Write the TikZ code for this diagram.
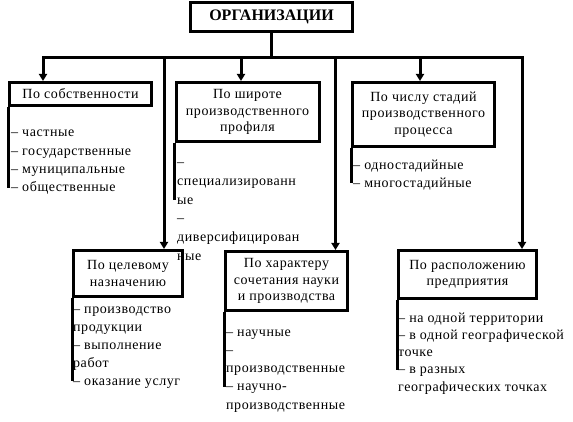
\documentclass[tikz,border=0pt]{standalone}
\usepackage{fontspec}
\setmainfont{Liberation Serif}
\newfontfamily\spacedfont{Liberation Serif}[LetterSpace=4]
\usetikzlibrary{arrows.meta}
\begin{document}
\begin{tikzpicture}[x=1pt,y=-1pt,
  box/.style={draw, line width=3pt, inner sep=0pt, align=center,
    font=\spacedfont\fontsize{14}{16.5}\selectfont},
  item/.style={anchor=base west, inner sep=0pt,
    font=\spacedfont\fontsize{14}{16}\selectfont},
  conn/.style={line width=3pt},
  arr/.style={line width=3pt, -{Triangle[length=7pt,width=8pt]}},
  brk/.style={line width=3pt}]
\useasboundingbox (0,0) rectangle (573,422);

% boxes
\node[box, minimum width=162, minimum height=29,
  font=\bfseries\fontsize{16}{18}\selectfont] (top) at (271.5,17) {ОРГАНИЗАЦИИ};
\node[box, minimum width=142, minimum height=23] (b1) at (80.5,94) {По собственности};
\node[box, minimum width=143, minimum height=59] (b2) at (247.5,112) {По широте\\производственного\\профиля};
\node[box, minimum width=142, minimum height=64] (b3) at (423.5,114.5) {По числу стадий\\производственного\\процесса};
\node[box, minimum width=109, minimum height=46] (b4) at (128,273.5) {По целевому\\назначению};
\node[box, minimum width=122, minimum height=59] (b5) at (286.5,281) {По характеру\\сочетания науки\\и производства};
\node[box, minimum width=138, minimum height=48] (b6) at (467.5,274.5) {По расположению\\предприятия};

% bus coordinates
\coordinate (j)  at (271.5,58);
\coordinate (c1) at (43,58);
\coordinate (c2) at (164,58);
\coordinate (c3) at (241,58);
\coordinate (c4) at (335.5,58);
\coordinate (c5) at (420,58);
\coordinate (c6) at (522,58);

\draw[conn] (top.south) -- (j);
\draw[arr] (j) -- (c1) -- (c1 |- b1.north);
\draw[arr] (j) -- (c6) -- (c6 |- b6.north);
\draw[arr] (c2) -- (c2 |- b4.north);
\draw[arr] (c3) -- (c3 |- b2.north);
\draw[arr] (c4) -- (c4 |- b5.north);
\draw[arr] (c5) -- (c5 |- b3.north);

% item lists
\foreach \t [count=\i] in {{– частные},{– государственные},{– муниципальные},{– общественные}}
  \node[item] (g1-\i) at (11,{137+18.3*(\i-1)}) {\t};
\foreach \t [count=\i] in {{–},{специализированн},{ые},{–},{диверсифицирован},{ные}}
  \node[item] (g2-\i) at (177,{167+18.6*(\i-1)}) {\t};
\foreach \t [count=\i] in {{– одностадийные},{– многостадийные}}
  \node[item] (g3-\i) at (353,{170+17.5*(\i-1)}) {\t};
\foreach \t [count=\i] in {{– производство},{продукции},{– выполнение},{работ},{– оказание услуг}}
  \node[item] (g4-\i) at (73,{313+18*(\i-1)}) {\t};
\foreach \t [count=\i] in {{– научные},{–},{производственные},{– научно-},{производственные}}
  \node[item] (g5-\i) at (226,{336+18.3*(\i-1)}) {\t};
\foreach \t [count=\i] in {{– на одной территории},{– в одной географической},{точке},{– в разных},{географических точках}}
  \node[item] (g6-\i) at (398,{322+17.3*(\i-1)}) {\t};

% bracket ends
\path ([yshift=4pt]g1-4.base) coordinate (e1);
\path ([yshift=4pt]g2-3.base) coordinate (e2);
\path ([yshift=4pt]g3-2.base) coordinate (e3);
\path ([yshift=4pt]g4-5.base) coordinate (e4);
\path ([yshift=4pt]g5-4.base) coordinate (e5);
\path ([yshift=4pt]g6-4.base) coordinate (e6);

\draw[brk] (b1.south west) -- (b1.south west |- e1);
\draw[brk] (b2.south west) -- (b2.south west |- e2);
\draw[brk] (b3.south west) -- (b3.south west |- e3);
\draw[brk] (b4.south west) -- (b4.south west |- e4);
\draw[brk] (b5.south west) -- (b5.south west |- e5);
\draw[brk] (b6.south west) -- (b6.south west |- e6);
\end{tikzpicture}
\end{document}
